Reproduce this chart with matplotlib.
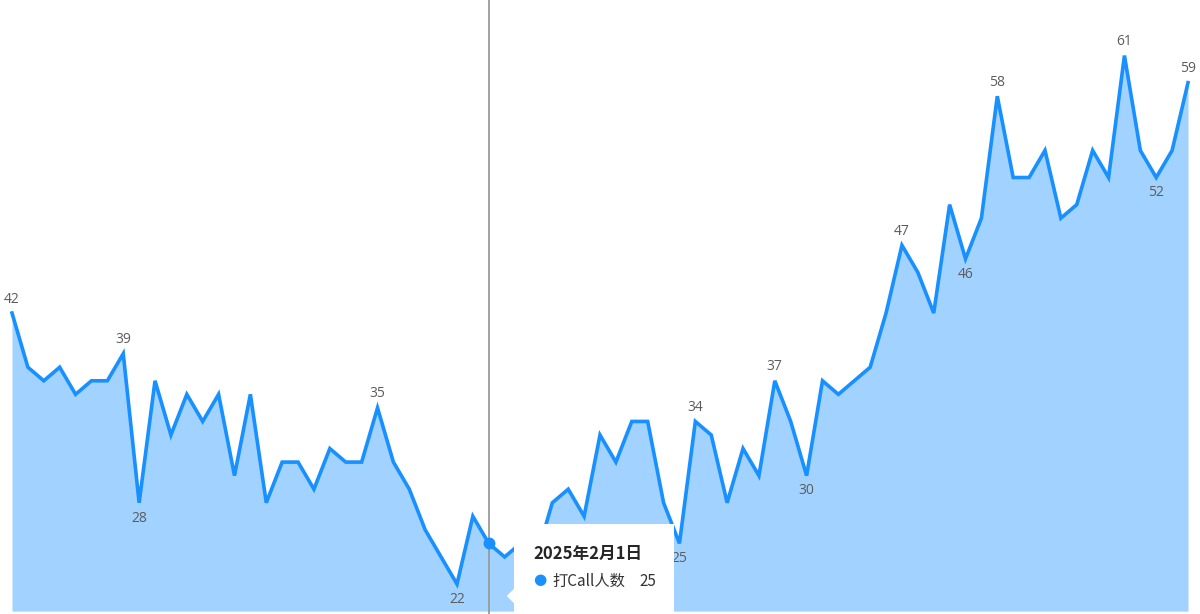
import matplotlib.pyplot as plt
import matplotlib.patches as mpatches
import pandas as pd

plt.rcParams['font.family'] = ['Noto Sans CJK SC', 'DejaVu Sans']

# daily "打Call" counts, starting 2025-01-02
dates = pd.date_range('2025-01-02', periods=75, freq='D')
values = [42, 38, 37, 38, 36, 37, 37, 39, 28, 37,
          33, 36, 34, 36, 30, 36, 28, 31, 31, 29,
          32, 31, 31, 35, 31, 29, 26, 24, 22, 27,
          25, 24, 25, 24, 28, 29, 27, 33, 31, 34,
          34, 28, 25, 34, 33, 28, 32, 30, 37, 34,
          30, 37, 36, 37, 38, 42, 47, 45, 42, 50,
          46, 49, 58, 52, 52, 54, 49, 50, 54, 52,
          61, 54, 52, 54, 59]
series_name = '打Call人数'
# points that carry a value label
labelled = [0, 7, 8, 23, 28, 42, 43, 48, 50, 56, 60, 62, 70, 72, 74]
hover_idx = 30

line_color = '#1890ff'
xs = list(range(len(values)))

fig = plt.figure(figsize=(12, 6.14), dpi=100)
ax = fig.add_axes([0, 0, 1, 1])
ax.set_xlim(-0.755, len(values) - 1 + 0.755)
ax.set_ylim(19.79, 65.1)
ax.axis('off')

ax.fill_between(xs, values, 20, color=line_color, alpha=0.4, linewidth=0)
ax.plot(xs, values, color=line_color, linewidth=2.6, solid_joinstyle='miter', zorder=3)

for i in labelled:
    v = values[i]
    left = values[i - 1] if i > 0 else None
    right = values[i + 1] if i < len(values) - 1 else None
    below = (left is None or v < left) and (right is None or v < right)
    off = -11 if below else 10
    ax.annotate(str(v), (i, v), xytext=(0, off), textcoords='offset points',
                ha='center', va='center', fontsize=10, color='#5c5c5c',
                family=['Open Sans', 'DejaVu Sans'], zorder=4)

# hover crosshair + tooltip
ax.axvline(hover_idx, color='#9a9a9a', linewidth=1.3, zorder=5)
ax.plot(hover_idx, values[hover_idx], 'o', color=line_color, markersize=7.5, zorder=6)

px_x, px_y = ax.transData.transform((hover_idx, values[hover_idx]))
fig_w, fig_h = fig.get_size_inches() * fig.dpi

# box in figure pixels (origin bottom-left)
bx0 = px_x + 25
bw, bh = 160, 88
by0 = 2
box = mpatches.Rectangle((bx0 / fig_w, by0 / fig_h), bw / fig_w, bh / fig_h,
                         transform=fig.transFigure, facecolor='white',
                         edgecolor='none', zorder=7)
fig.patches.append(box)
arrow = mpatches.Polygon([((bx0 + 1) / fig_w, 26 / fig_h),
                          ((bx0 - 7) / fig_w, 18 / fig_h),
                          ((bx0 + 1) / fig_w, 10 / fig_h)],
                         closed=True, transform=fig.transFigure,
                         facecolor='white', edgecolor='none', zorder=7)
fig.patches.append(arrow)

d = dates[hover_idx]
title = f'{d.year}年{d.month}月{d.day}日'
fig.text((bx0 + 20) / fig_w, 60 / fig_h, title, fontsize=12, fontweight='bold',
         color='#262626', ha='left', va='center', zorder=8)
fig.text((bx0 + 26) / fig_w, 34 / fig_h, '●', fontsize=11, color=line_color,
         ha='center', va='center', family=['DejaVu Sans'], zorder=8)
fig.text((bx0 + 39) / fig_w, 33 / fig_h, series_name, fontsize=11, color='#333333',
         ha='left', va='center', zorder=8)
fig.text((bx0 + 126) / fig_w, 33 / fig_h, str(values[hover_idx]), fontsize=11,
         color='#333333', ha='left', va='center', zorder=8)

fig.savefig('out.png', dpi=100)
